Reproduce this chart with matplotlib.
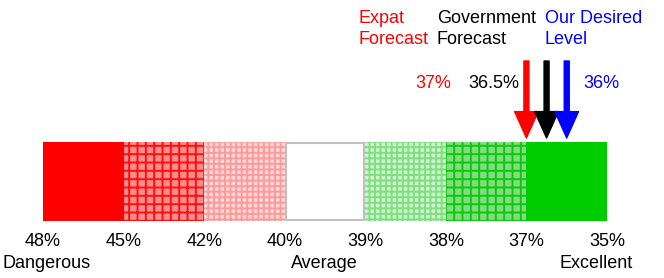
import numpy as np
import matplotlib
matplotlib.use("Agg")
import matplotlib.pyplot as plt

plt.rcParams['font.family'] = ['Liberation Sans', 'DejaVu Sans']
plt.rcParams['hatch.linewidth'] = 1.4

# Data
tick_values = [48, 45, 42, 40, 39, 38, 37, 35]
tick_labels = ["48%", "45%", "42%", "40%", "39%", "38%", "37%", "35%"]
zone_labels = ["Dangerous", "Average", "Excellent"]
seg_faces = ["#ff0000", "#ff8c8c", "#ffd8d8", "#ffffff", "#d0f2d0", "#80dd80", "#00cc00"]
seg_hatch_colors = ["#ff0000", "#ff1010", "#ff9a9a", "#c0c0c0", "#7fe07f", "#10c810", "#00cc00"]
seg_hatches = [None, "++", "+++", None, "+++", "++", None]
forecast_names = ["Expat\nForecast", "Government\nForecast", "Our Desired\nLevel"]
forecast_values = [37, 36.5, 36]
forecast_labels = ["37%", "36.5%", "36%"]
forecast_colors = ["#ff0000", "#000000", "#0000ff"]

W, H = 664, 278
fig = plt.figure(figsize=(W / 100, H / 100), dpi=100)
ax = fig.add_axes([0, 0, 1, 1])
seg_px = (607 - 43) / 7
ax.set_xlim(-43 / seg_px, 7 + (W - 607) / seg_px)
ax.set_ylim(H, 0)
ax.axis('off')

def pos(v):
    return np.interp(-np.asarray(v, float), -np.array(tick_values, float), np.arange(len(tick_values)))

# band
band_top, band_h = 142, 79
for i in range(7):
    if seg_hatches[i]:
        ax.bar(i + 0.5, band_h, bottom=band_top, width=1, color=seg_faces[i],
               edgecolor=seg_hatch_colors[i], hatch=seg_hatches[i], linewidth=0)
    elif i == 3:
        ax.bar(i + 0.5, band_h - 2, bottom=band_top + 1, width=1 - 2 / seg_px, color=seg_faces[i],
               edgecolor="#c0c0c0", linewidth=1.5)
    else:
        ax.bar(i + 0.5, band_h, bottom=band_top, width=1, color=seg_faces[i], linewidth=0)

fs = 13
for i, lab in enumerate(tick_labels):
    ax.text(i, 242, lab, ha='center', va='center', fontsize=fs)
ax.text(pos(48) - 40 / seg_px, 263, zone_labels[0], ha='left', va='center', fontsize=fs)
ax.text(pos(40) + 40 / seg_px, 263, zone_labels[1], ha='center', va='center', fontsize=fs)
ax.text(pos(35) - 11 / seg_px, 263, zone_labels[2], ha='center', va='center', fontsize=fs)

# arrows
for v, c in zip(forecast_values, forecast_colors):
    x = pos(v)
    ax.annotate("", xy=(x, 138), xytext=(x, 61),
                arrowprops=dict(width=3.6, headwidth=17, headlength=19, color=c, shrink=0))

# names
name_x = [358, 437, 545]
for nx, name, c in zip(name_x, forecast_names, forecast_colors):
    ax.text((nx - 43) / seg_px, 29, name, ha='left', va='center', fontsize=fs,
            color=c, linespacing=1.25)

# percent labels
lab_x = [433, 494, 601]
for lx, lab, c in zip(lab_x, forecast_labels, forecast_colors):
    ax.text((lx - 43) / seg_px, 83, lab, ha='center', va='center', fontsize=fs, color=c)

fig.savefig("out.png", dpi=100)
